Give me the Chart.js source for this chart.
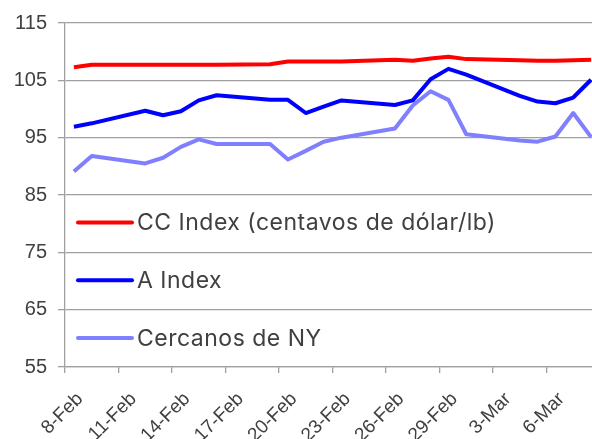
<!DOCTYPE html>
<html>
<head>
<meta charset="utf-8">
<script src="https://cdn.jsdelivr.net/npm/chart.js@4/dist/chart.umd.min.js"></script>
<style>
  html, body { margin: 0; padding: 0; background: #fff; overflow: hidden; }
  #wrap { width: 600px; height: 439px; }
</style>
</head>
<body>
<div id="wrap"><canvas id="indexChart" width="600" height="439"></canvas></div>
<script>
// every calendar day on the axis, weekends left empty
const days = [
    '8-Feb', '9-Feb', '10-Feb', '11-Feb', '12-Feb', '13-Feb', '14-Feb', '15-Feb', '16-Feb', '17-Feb',
    '18-Feb', '19-Feb', '20-Feb', '21-Feb', '22-Feb', '23-Feb', '24-Feb', '25-Feb', '26-Feb', '27-Feb',
    '28-Feb', '29-Feb', '1-Mar', '2-Mar', '3-Mar', '4-Mar', '5-Mar', '6-Mar', '7-Mar', '8-Mar'
];

const ccIndex = [
    107.3, 107.7, null, null, 107.7, 107.7, 107.7, 107.7, 107.7, null,
    null, 107.8, 108.3, 108.3, 108.3, 108.3, null, null, 108.6, 108.4,
    108.8, 109.1, 108.7, null, null, 108.5, 108.4, 108.4, 108.5, 108.6
];

const aIndex = [
    96.9, 97.5, null, null, 99.7, 98.9, 99.6, 101.5, 102.4, null,
    null, 101.6, 101.6, 99.3, 100.4, 101.5, null, null, 100.7, 101.5,
    105.2, 107.0, 106.0, null, null, 102.3, 101.3, 101.0, 102.0, 105.1
];

const nearbyNY = [
    89.1, 91.8, null, null, 90.5, 91.5, 93.4, 94.7, 93.9, null,
    null, 93.9, 91.2, 92.7, 94.3, 95.0, null, null, 96.6, 100.6,
    103.1, 101.6, 95.6, null, null, 94.5, 94.3, 95.2, 99.3, 95.1
];

const seriesNames = ['CC Index (centavos de dólar/lb)', 'A Index', 'Cercanos de NY'];
const seriesColors = ['#ff0000', '#0000ff', '#8080ff'];

const axisGrey = '#a0a0a0';
const textGrey = '#404040';
const axisFont = '"Liberation Sans", Arial, sans-serif';
const legendFont = 'Inter, Roboto, sans-serif';

// legend drawn inside the plot, left side
const insideLegend = {
    id: 'insideLegend',
    afterDraw(chart) {
        const { ctx, chartArea } = chart;
        ctx.save();
        ctx.font = '23px ' + legendFont;
        ctx.letterSpacing = '0.5px';
        ctx.textBaseline = 'middle';
        ctx.fillStyle = textGrey;
        chart.data.datasets.forEach((ds, i) => {
            const y = chartArea.top + 199.5 + i * 57.8;
            const x = chartArea.left + 13;
            ctx.strokeStyle = ds.borderColor;
            ctx.lineWidth = 4;
            ctx.lineCap = 'round';
            ctx.beginPath();
            ctx.moveTo(x, y);
            ctx.lineTo(x + 54, y);
            ctx.stroke();
            ctx.fillText(ds.label, x + 59, y + 1);
        });
        ctx.restore();
    }
};

const makeSet = (i, data) => ({
    label: seriesNames[i],
    data: data,
    borderColor: seriesColors[i],
    backgroundColor: seriesColors[i],
    borderWidth: 4,
    pointRadius: 0,
    tension: 0,
    spanGaps: true,
    borderJoinStyle: 'round'
});

const chart = new Chart(document.getElementById('indexChart'), {
    type: 'line',
    data: {
        labels: days,
        datasets: [makeSet(0, ccIndex), makeSet(1, aIndex), makeSet(2, nearbyNY)]
    },
    options: {
        responsive: false,
        animation: false,
        layout: { padding: { top: 20, left: 0, right: 0, bottom: 0 } },
        plugins: {
            legend: { display: false },
            tooltip: { enabled: false }
        },
        scales: {
            x: {
                offset: true,
                afterFit: scale => {
                    scale.height = 72;
                    scale.paddingLeft = 0;
                    scale.paddingRight = 0;
                },
                border: { display: true, color: axisGrey, width: 1.3 },
                grid: {
                    offset: true,
                    drawOnChartArea: false,
                    tickLength: 6,
                    lineWidth: 1.3,
                    color: c => (c.index % 3 === 0 ? axisGrey : 'rgba(0,0,0,0)')
                },
                ticks: {
                    autoSkip: false,
                    minRotation: 45,
                    maxRotation: 45,
                    labelOffset: 6,
                    padding: 15,
                    color: textGrey,
                    font: { family: axisFont, size: 19 },
                    callback: (v, i) => (i % 3 === 0 ? days[i] : '')
                }
            },
            y: {
                min: 55,
                max: 115,
                afterFit: scale => { scale.width = 65; },
                border: { display: true, color: axisGrey, width: 1.3 },
                grid: { color: axisGrey, lineWidth: 1.3, tickLength: 7 },
                ticks: {
                    stepSize: 10,
                    padding: 11,
                    color: textGrey,
                    font: { family: axisFont, size: 20 }
                }
            }
        }
    },
    plugins: [insideLegend]
});
</script>
</body>
</html>
